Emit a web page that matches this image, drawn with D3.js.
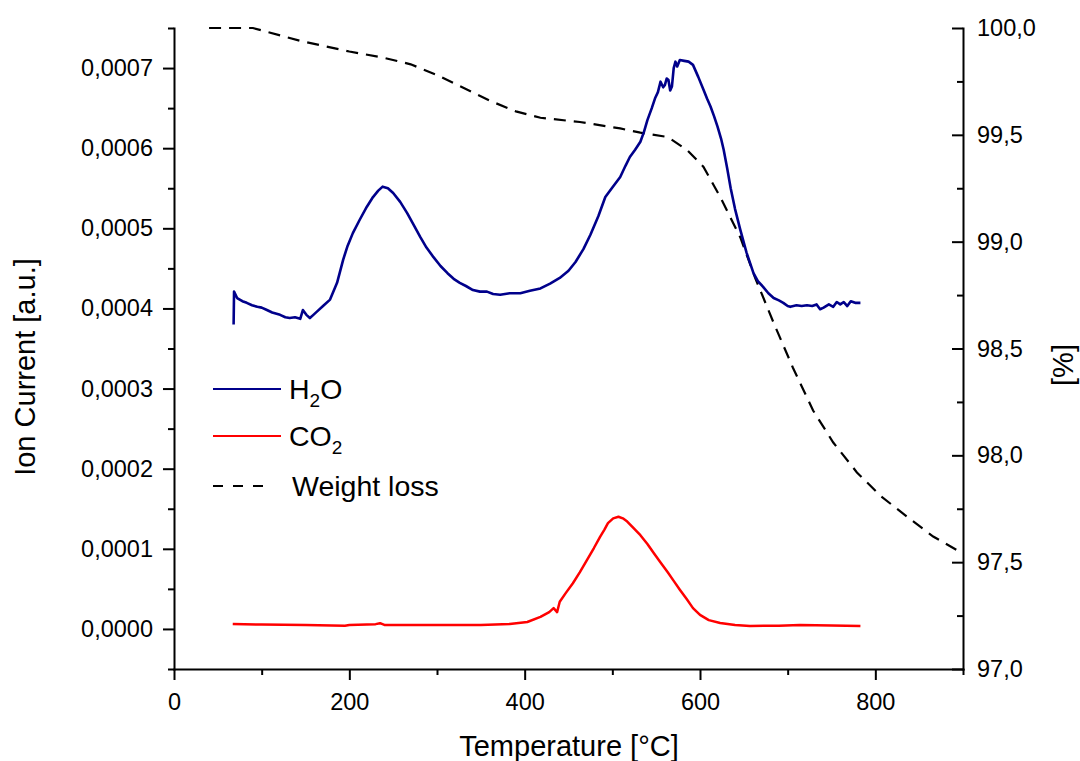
<!DOCTYPE html>
<html>
<head>
<meta charset="utf-8">
<script src="https://cdn.jsdelivr.net/npm/d3@7"></script>
<style>
  body { margin: 0; background: #fff; }
  svg { display: block; font-family: "Liberation Sans", Arial, sans-serif; }
  .axis path, .axis line { stroke: #000; stroke-width: 2px; }
  .axis text { font-size: 23.5px; fill: #000; }
</style>
</head>
<body>
<svg id="chart" width="1080" height="761"></svg>
<script>
// temperature [°C], ion current [a.u.]
var h2o = [
  [68, 0.000380], [68.5, 0.000421], [72, 0.000413], [78, 0.000409], [83, 0.000407], [89, 0.000404],
  [95, 0.000402], [100, 0.000401], [106, 0.000398], [112, 0.000395], [121, 0.000392], [127, 0.000389],
  [132, 0.000388], [138, 0.000389], [144, 0.000387], [147, 0.000398], [151, 0.000392], [155, 0.000388],
  [159, 0.000392], [163, 0.000396], [170, 0.000403], [178, 0.000411], [186, 0.000432], [193, 0.000461],
  [198, 0.000478], [204, 0.000494], [212, 0.000511], [220, 0.000527], [227, 0.000539], [233, 0.000547],
  [238, 0.000552], [244, 0.000550], [250, 0.000544], [258, 0.000533], [266, 0.000519], [274, 0.000503],
  [281, 0.000489], [288, 0.000476], [296, 0.000464], [304, 0.000453], [312, 0.000444], [319, 0.000437],
  [326, 0.000432], [333, 0.000428], [341, 0.000423], [349, 0.000421], [357, 0.000421], [364, 0.000418],
  [372, 0.000417], [383, 0.000419], [395, 0.000419], [406, 0.000422], [418, 0.000425], [429, 0.000431],
  [440, 0.000438], [450, 0.000447], [458, 0.000458], [467, 0.000474], [475, 0.000492], [484, 0.000515],
  [492, 0.000539], [500, 0.000551], [509, 0.000564], [515, 0.000578], [520, 0.000589], [526, 0.000598],
  [532, 0.000608], [536, 0.000620], [540, 0.000635], [545, 0.000650], [549, 0.000663], [552, 0.000670],
  [555, 0.000683], [558, 0.000676], [560, 0.000679], [562, 0.000687], [564, 0.000685], [566, 0.000672],
  [568, 0.000677], [570, 0.000700], [572, 0.000708], [574, 0.000702], [577, 0.000710], [582, 0.000709],
  [587, 0.000708], [592, 0.000704], [598, 0.000689], [604, 0.000673], [608, 0.000662], [612, 0.000652],
  [616, 0.000640], [620, 0.000627], [624, 0.000612], [627, 0.000598], [631, 0.000575], [635, 0.000550],
  [640, 0.000524], [646, 0.000498], [653, 0.000470], [661, 0.000444], [666, 0.000434], [672, 0.000427],
  [678, 0.000419], [684, 0.000413], [690, 0.000410], [695, 0.000407], [700, 0.000403], [703, 0.000402],
  [710, 0.000404], [716, 0.000403], [722, 0.000404], [728, 0.000403], [733, 0.000405], [737, 0.000399],
  [741, 0.000401], [747, 0.000405], [752, 0.000402], [756, 0.000408], [760, 0.000405], [764, 0.000408],
  [768, 0.000403], [772, 0.000409], [777, 0.000407], [783, 0.000407]
];

var co2 = [
  [67, 0.0000062], [100, 0.0000055], [150, 0.0000050], [195, 0.0000040], [200, 0.0000048], [230, 0.0000060],
  [235, 0.0000072], [240, 0.0000050], [300, 0.0000048], [350, 0.0000050], [383, 0.0000062], [403, 0.0000087],
  [418, 0.000015], [428, 0.000021], [433, 0.000026], [437, 0.000021], [440, 0.000034], [447, 0.000045],
  [455, 0.000057], [463, 0.000071], [471, 0.000086], [479, 0.000101], [486, 0.000115], [491, 0.000124],
  [495, 0.000132], [501, 0.000138], [507, 0.000140], [512, 0.000138], [517, 0.000134], [524, 0.000126],
  [532, 0.000117], [540, 0.000106], [547, 0.000095], [555, 0.000083], [563, 0.000071], [570, 0.000060],
  [577, 0.000049], [585, 0.000037], [592, 0.000026], [600, 0.0000175], [610, 0.000011], [623, 0.0000075],
  [640, 0.0000050], [657, 0.0000037], [690, 0.0000040], [714, 0.0000050], [750, 0.0000042], [783, 0.0000037]
];

// temperature [°C], mass [%]
var weightLoss = [
  [40, 100.0], [90, 100.0], [144, 99.94], [200, 99.89], [240, 99.86], [270, 99.83], [300, 99.78],
  [330, 99.72], [360, 99.66], [390, 99.61], [418, 99.58], [463, 99.56], [509, 99.53], [532, 99.51],
  [563, 99.49], [585, 99.43], [604, 99.35], [623, 99.21], [646, 99.02], [663, 98.83], [684, 98.62],
  [706, 98.41], [729, 98.21], [752, 98.06], [779, 97.92], [806, 97.81], [837, 97.71], [866, 97.62],
  [900, 97.54]
];

var xTicks = [0, 200, 400, 600, 800];
var xMinor = [100, 300, 500, 700, 900];
var yLeftTicks = [0, 0.0001, 0.0002, 0.0003, 0.0004, 0.0005, 0.0006, 0.0007];
var yLeftMinor = [-0.00005, 0.00005, 0.00015, 0.00025, 0.00035, 0.00045, 0.00055, 0.00065, 0.00075];
var yRightTicks = [97.0, 97.5, 98.0, 98.5, 99.0, 99.5, 100.0];
var yRightMinor = [97.25, 97.75, 98.25, 98.75, 99.25, 99.75];

var svg = d3.select("#chart");
var mLeft = 174, mRight = 963, mTop = 28, mBottom = 669;

var x = d3.scaleLinear().domain([0, 900]).range([mLeft, mRight]);
var yL = d3.scaleLinear().domain([-0.00005, 0.00075]).range([mBottom, mTop]);
var yR = d3.scaleLinear().domain([97, 100]).range([mBottom, mTop]);

var comma = d3.formatLocale({ decimal: ",", thousands: ".", grouping: [3], currency: ["", ""] });
var fmtL = comma.format(".4f");
var fmtR = comma.format(".1f");

// minor ticks first
svg.append("g").attr("class", "axis")
  .attr("transform", "translate(0," + mBottom + ")")
  .call(d3.axisBottom(x).tickValues(xMinor).tickSize(6).tickFormat(""))
  .select(".domain").remove();
svg.append("g").attr("class", "axis")
  .attr("transform", "translate(" + mLeft + ",0)")
  .call(d3.axisLeft(yL).tickValues(yLeftMinor).tickSize(6).tickFormat(""))
  .select(".domain").remove();
svg.append("g").attr("class", "axis")
  .attr("transform", "translate(" + mRight + ",0)")
  .call(d3.axisRight(yR).tickValues(yRightMinor).tickSize(-6).tickFormat(""))
  .select(".domain").remove();

// major axes
svg.append("g").attr("class", "axis")
  .attr("transform", "translate(0," + mBottom + ")")
  .call(d3.axisBottom(x).tickValues(xTicks).tickSizeInner(11).tickSizeOuter(0).tickPadding(13));
svg.append("g").attr("class", "axis")
  .attr("transform", "translate(" + mLeft + ",0)")
  .call(d3.axisLeft(yL).tickValues(yLeftTicks).tickFormat(fmtL).tickSizeInner(11).tickSizeOuter(0).tickPadding(10));
svg.append("g").attr("class", "axis")
  .attr("transform", "translate(" + mRight + ",0)")
  .call(d3.axisRight(yR).tickValues(yRightTicks).tickFormat(fmtR).tickSizeInner(-11).tickSizeOuter(0).tickPadding(14));

svg.selectAll(".domain").attr("stroke-linecap", "square");

var lineL = d3.line().x(d => x(d[0])).y(d => yL(d[1]));
var lineR = d3.line().x(d => x(d[0])).y(d => yR(d[1]));

svg.append("path").datum(weightLoss)
  .attr("d", lineR).attr("fill", "none").attr("stroke", "#000")
  .attr("stroke-width", 2.2).attr("stroke-dasharray", "12,8");
svg.append("path").datum(co2)
  .attr("d", lineL).attr("fill", "none").attr("stroke", "#ff0000")
  .attr("stroke-width", 2.5).attr("stroke-linejoin", "round");
svg.append("path").datum(h2o)
  .attr("d", lineL).attr("fill", "none").attr("stroke", "#00008b")
  .attr("stroke-width", 2.6).attr("stroke-linejoin", "round");

// legend
var legend = svg.append("g").attr("font-size", "28.5px");
var items = [
  { y: 389, color: "#00008b", dash: null, label: ["H", "2", "O"] },
  { y: 436, color: "#ff0000", dash: null, label: ["CO", "2", ""] },
  { y: 486, color: "#000", dash: "10,10", label: ["Weight loss"] }
];
items.forEach(function(d) {
  legend.append("line")
    .attr("x1", 213).attr("x2", d.dash ? 273 : 281).attr("y1", d.y).attr("y2", d.y)
    .attr("stroke", d.color).attr("stroke-width", 2.2)
    .attr("stroke-dasharray", d.dash);
  var t = legend.append("text").attr("x", d.dash ? 292 : 289).attr("y", d.y + 10);
  t.append("tspan").text(d.label[0]);
  if (d.label.length > 1) {
    t.append("tspan").attr("font-size", "19px").attr("dy", 8).text(d.label[1]);
    t.append("tspan").attr("dy", -8).text(d.label[2]);
  }
});

// axis titles
svg.append("text").attr("x", 569).attr("y", 756).attr("text-anchor", "middle")
  .attr("font-size", "29px").text("Temperature [°C]");
svg.append("text").attr("transform", "translate(35,367) rotate(-90)").attr("text-anchor", "middle")
  .attr("font-size", "29px").text("Ion Current [a.u.]");
svg.append("text").attr("transform", "translate(1073,365) rotate(-90)").attr("text-anchor", "middle")
  .attr("font-size", "29px").text("[%]");
</script>
</body>
</html>
